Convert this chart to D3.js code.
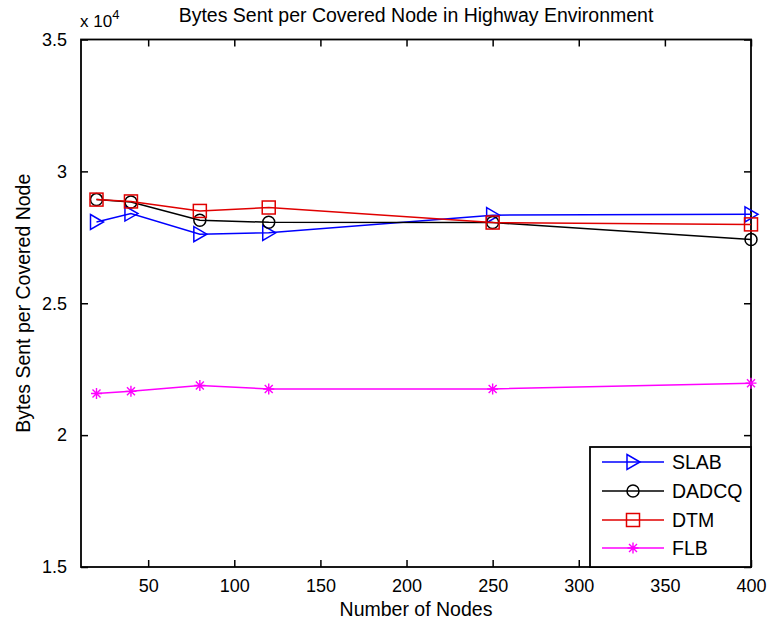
<!DOCTYPE html>
<html>
<head>
<meta charset="utf-8">
<script src="https://cdn.jsdelivr.net/npm/d3@7"></script>
<style>
  html, body { margin: 0; padding: 0; background: #fff; }
  svg { display: block; }
  text { font-family: Arial, "Liberation Sans", sans-serif; fill: #000; }
</style>
</head>
<body>
<svg id="chart" width="770" height="626"></svg>
<script>
// Number of nodes on the highway segment
const nodes = [20, 40, 80, 120, 250, 400];

// Bytes sent per covered node, one array per protocol
const slab  = [28080, 28400, 27620, 27670, 28340, 28370];
const dadcq = [28930, 28840, 28150, 28070, 28060, 27420];
const dtm   = [28930, 28860, 28500, 28630, 28060, 27990];
const flb   = [21580, 21660, 21880, 21750, 21750, 21970];

const seriesNames = ["SLAB", "DADCQ", "DTM", "FLB"];
const xTicks = [50, 100, 150, 200, 250, 300, 350, 400];
const yTicks = [15000, 20000, 25000, 30000, 35000];

const series = [
  { name: seriesNames[0], values: slab,  color: "#0000ff", marker: "triangle" },
  { name: seriesNames[1], values: dadcq, color: "#000000", marker: "circle" },
  { name: seriesNames[2], values: dtm,   color: "#e00000", marker: "square" },
  { name: seriesNames[3], values: flb,   color: "#ff00ff", marker: "star" }
];

const svg = d3.select("#chart");
const L = 81, R = 751, T = 39.5, B = 567;

const x = d3.scaleLinear().domain([11, 400]).range([L, R]);
const y = d3.scaleLinear().domain([15000, 35000]).range([B, T]);

const tickLen = 7;
const fmtY = d => String(d / 10000);

// Axes: ticks point inward on all four sides, labels on bottom and left only
const gx = svg.append("g").attr("transform", `translate(0,${B})`)
  .call(d3.axisBottom(x).tickValues(xTicks).tickSizeInner(-tickLen).tickSizeOuter(0).tickPadding(12));
const gy = svg.append("g").attr("transform", `translate(${L},0)`)
  .call(d3.axisLeft(y).tickValues(yTicks).tickFormat(fmtY).tickSizeInner(-tickLen).tickSizeOuter(0).tickPadding(14));
const gxTop = svg.append("g").attr("transform", `translate(0,${T})`)
  .call(d3.axisTop(x).tickValues(xTicks).tickSizeInner(-tickLen).tickSizeOuter(0).tickFormat(""));
const gyRight = svg.append("g").attr("transform", `translate(${R},0)`)
  .call(d3.axisRight(y).tickValues(yTicks).tickSizeInner(-tickLen).tickSizeOuter(0).tickFormat(""));

[gx, gy, gxTop, gyRight].forEach(g => {
  g.select(".domain").remove();
  g.selectAll(".tick line").attr("stroke", "#000").attr("stroke-width", 1.5);
  g.selectAll(".tick text").attr("font-size", 18).attr("font-family", "Arial, 'Liberation Sans', sans-serif");
});

// Plot box
svg.append("rect")
  .attr("x", L).attr("y", T).attr("width", R - L).attr("height", B - T)
  .attr("fill", "none").attr("stroke", "#000").attr("stroke-width", 1.8);

// Marker shapes
function drawMarker(g, kind, cx, cy, color) {
  if (kind === "triangle") {
    g.append("path")
      .attr("d", `M${cx - 6},${cy - 7.5} L${cx + 7},${cy} L${cx - 6},${cy + 7.5} Z`)
      .attr("fill", "none").attr("stroke", color).attr("stroke-width", 1.5);
  } else if (kind === "circle") {
    g.append("circle").attr("cx", cx).attr("cy", cy).attr("r", 6)
      .attr("fill", "none").attr("stroke", color).attr("stroke-width", 1.5);
  } else if (kind === "square") {
    g.append("rect").attr("x", cx - 6.5).attr("y", cy - 6.5).attr("width", 13).attr("height", 13)
      .attr("fill", "none").attr("stroke", color).attr("stroke-width", 1.5);
  } else if (kind === "star") {
    const s = 5.5, d = 4;
    g.append("path")
      .attr("d", `M${cx - s},${cy} L${cx + s},${cy} M${cx},${cy - s} L${cx},${cy + s} ` +
                 `M${cx - d},${cy - d} L${cx + d},${cy + d} M${cx - d},${cy + d} L${cx + d},${cy - d}`)
      .attr("fill", "none").attr("stroke", color).attr("stroke-width", 1.4);
  }
}

const line = d3.line().x(d => x(d[0])).y(d => y(d[1]));

series.forEach(s => {
  const pts = nodes.map((n, i) => [n, s.values[i]]);
  const g = svg.append("g");
  g.append("path").datum(pts).attr("d", line)
    .attr("fill", "none").attr("stroke", s.color).attr("stroke-width", 1.5);
  pts.forEach(p => drawMarker(g, s.marker, x(p[0]), y(p[1]), s.color));
});

// Legend in the lower-right corner of the plot box
const lg = svg.append("g");
const lgTop = 447;
lg.append("rect").attr("x", 590).attr("y", lgTop).attr("width", R - 590).attr("height", B - lgTop)
  .attr("fill", "#fff").attr("stroke", "#000").attr("stroke-width", 1.8);
const rowY = [462, 491, 520, 548];
series.forEach((s, i) => {
  const yy = rowY[i];
  lg.append("line").attr("x1", 602).attr("x2", 664).attr("y1", yy).attr("y2", yy)
    .attr("stroke", s.color).attr("stroke-width", 1.5);
  drawMarker(lg, s.marker, 633, yy, s.color);
  lg.append("text").attr("x", 672).attr("y", yy).attr("dy", "0.36em")
    .attr("font-size", 19.5).text(s.name);
});

// Titles and axis labels
svg.append("text").attr("x", (L + R) / 2).attr("y", 22).attr("text-anchor", "middle")
  .attr("font-size", 19.5).text("Bytes Sent per Covered Node in Highway Environment");
svg.append("text").attr("x", 416).attr("y", 616).attr("text-anchor", "middle")
  .attr("font-size", 19.5).text("Number of Nodes");
svg.append("text").attr("transform", `translate(30,${(T + B) / 2}) rotate(-90)`)
  .attr("text-anchor", "middle").attr("font-size", 19.5).text("Bytes Sent per Covered Node");

// Exponent label for the y axis
const ex = svg.append("text").attr("x", 80).attr("y", 27).attr("font-size", 17);
ex.append("tspan").text("x 10");
ex.append("tspan").attr("dy", -8).attr("font-size", 13).text("4");
</script>
</body>
</html>
